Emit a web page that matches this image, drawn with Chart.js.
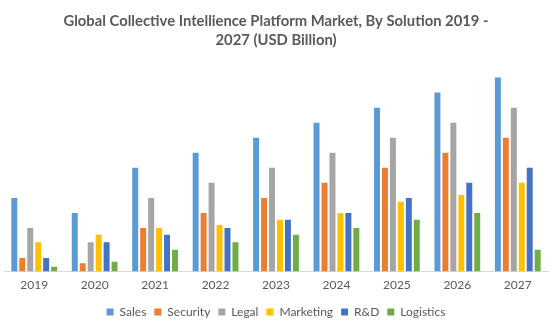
<!DOCTYPE html>
<html>
<head>
<meta charset="utf-8">
<script src="https://cdn.jsdelivr.net/npm/chart.js@4/dist/chart.umd.min.js"></script>
<style>
  html, body { margin: 0; padding: 0; background: #fff; }
  #wrap { width: 553px; height: 330px; }
</style>
</head>
<body>
<div id="wrap"><canvas id="grafico"></canvas></div>
<script>
// dados (USD Bilhão, estimado)
const anos = ['2019', '2020', '2021', '2022', '2023', '2024', '2025', '2026', '2027'];
const sales     = [4.9, 3.9, 6.9, 7.9, 8.9, 9.9, 10.9, 11.9, 12.9];
const security  = [0.9, 0.55, 2.9, 3.9, 4.9, 5.9, 6.9, 7.9, 8.9];
const legal     = [2.9, 1.95, 4.9, 5.9, 6.9, 7.9, 8.9, 9.9, 10.9];
const marketing = [1.95, 2.45, 2.9, 3.1, 3.45, 3.9, 4.65, 5.1, 5.9];
const rd        = [0.9, 1.95, 2.45, 2.9, 3.45, 3.9, 4.9, 5.9, 6.9];
const logistics = [0.33, 0.65, 1.45, 1.95, 2.45, 2.9, 3.45, 3.9, 1.45];

const series = [
    { label: 'Sales', data: sales, cor: '#5b9bd5' },
    { label: 'Security', data: security, cor: '#ed7d31' },
    { label: 'Legal', data: legal, cor: '#a5a5a5' },
    { label: 'Marketing', data: marketing, cor: '#ffc000' },
    { label: 'R&D', data: rd, cor: '#4472c4' },
    { label: 'Logistics', data: logistics, cor: '#70ad47' }
];

const corTexto = '#595959';

new Chart(document.getElementById('grafico'), {
    type: 'bar',
    data: {
        labels: anos,
        datasets: series.map(s => ({
            label: s.label,
            data: s.data,
            backgroundColor: s.cor,
            borderWidth: 0,
            barPercentage: 0.75,
            categoryPercentage: 0.79
        }))
    },
    options: {
        responsive: true, maintainAspectRatio: false,
        animation: false,
        layout: { padding: { left: 4, right: 5, top: 0, bottom: 2 } },
        plugins: {
            title: {
                display: true,
                text: ['Global Collective Intellience Platform Market, By Solution 2019 -', '2027 (USD Billion)'],
                color: corTexto,
                font: { family: 'Lato', size: 14.8, weight: 'bold', lineHeight: 1.25 },
                padding: { top: 12, bottom: 12 }
            },
            legend: {
                position: 'bottom',
                labels: {
                    color: corTexto,
                    boxWidth: 7, boxHeight: 7,
                    padding: 8,
                    font: { family: 'Lato', size: 12 }
                }
            },
            tooltip: { enabled: false }
        },
        scales: {
            x: {
                grid: { display: false, drawTicks: false },
                border: { color: '#d9d9d9' },
                ticks: { color: corTexto, font: { family: 'Lato', size: 12 }, padding: 6 }
            },
            y: { display: false, min: 0, max: 14 }
        }
    }
});
</script>
</body>
</html>
